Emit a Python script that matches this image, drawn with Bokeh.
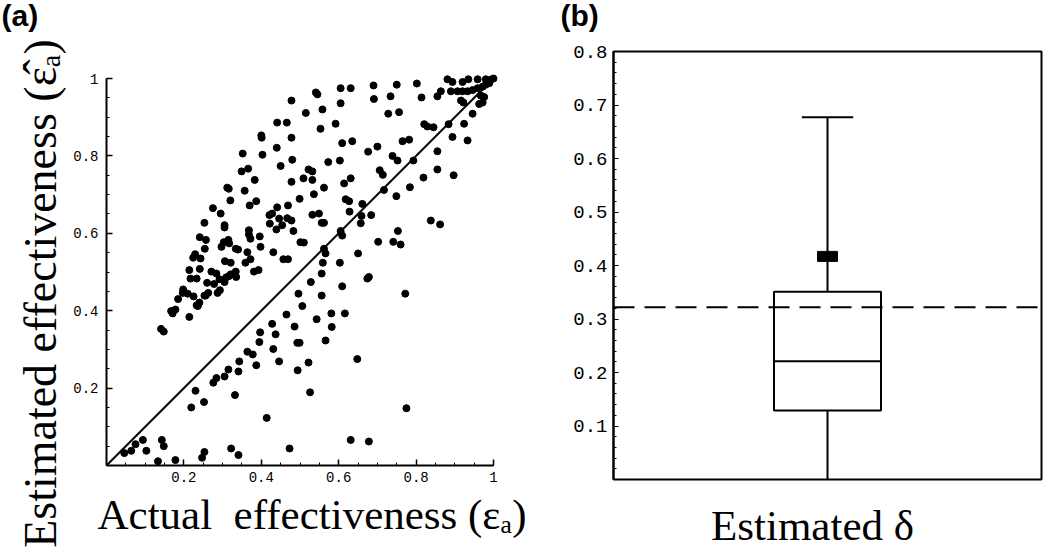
import math
from bokeh.plotting import figure
from bokeh.models import Range1d, FixedTicker, CustomJSTickFormatter, Label, BoxAnnotation
from bokeh.layouts import row
from bokeh.embed import file_html
from bokeh.resources import INLINE

# ---------------- data (a): actual vs estimated effectiveness ----------------
actual = [
    0.605, 0.631, 0.690, 0.750, 0.802, 0.691, 0.734, 0.814, 0.855, 0.864,
    0.881, 0.894, 0.920, 0.935, 0.959, 0.980, 0.993, 1.000, 0.890, 0.907,
    0.920, 0.933, 0.946, 0.959, 0.972, 0.980, 0.989, 0.916, 0.922, 0.967,
    0.976, 0.972, 0.963, 0.946, 0.541, 0.545, 0.478, 0.605, 0.558, 0.515,
    0.592, 0.553, 0.756, 0.728, 0.441, 0.466, 0.400, 0.401, 0.478, 0.609,
    0.635, 0.821, 0.829, 0.845, 0.884, 0.924, 0.894, 0.933, 0.782, 0.765,
    0.352, 0.403, 0.440, 0.676, 0.700, 0.855, 0.793, 0.739, 0.752, 0.603,
    0.573, 0.480, 0.450, 0.349, 0.366, 0.383, 0.614, 0.631, 0.706, 0.714,
    0.855, 0.819, 0.897, 0.522, 0.532, 0.509, 0.532, 0.478, 0.499, 0.536,
    0.562, 0.717, 0.784, 0.749, 0.312, 0.316, 0.320, 0.357, 0.370, 0.387,
    0.275, 0.295, 0.253, 0.305, 0.305, 0.368, 0.441, 0.469, 0.421, 0.428,
    0.446, 0.454, 0.467, 0.478, 0.483, 0.618, 0.627, 0.661, 0.628, 0.659,
    0.684, 0.605, 0.609, 0.657, 0.532, 0.549, 0.556, 0.562, 0.368, 0.396,
    0.372, 0.422, 0.439, 0.315, 0.303, 0.317, 0.334, 0.340, 0.364, 0.398,
    0.241, 0.257, 0.229, 0.224, 0.243, 0.241, 0.254, 0.297, 0.306, 0.321,
    0.359, 0.372, 0.381, 0.393, 0.431, 0.457, 0.469, 0.501, 0.510, 0.562,
    0.566, 0.321, 0.334, 0.284, 0.292, 0.260, 0.263, 0.256, 0.278, 0.287,
    0.293, 0.305, 0.309, 0.316, 0.335, 0.271, 0.214, 0.217, 0.233, 0.210,
    0.225, 0.185, 0.198, 0.197, 0.240, 0.253, 0.178, 0.167, 0.171, 0.141,
    0.148, 0.214, 0.233, 0.236, 0.556, 0.559, 0.741, 0.753, 0.760, 0.772,
    0.775, 0.862, 0.838, 0.648, 0.678, 0.631, 0.650, 0.674, 0.678, 0.702,
    0.603, 0.609, 0.616, 0.581, 0.582, 0.556, 0.566, 0.543, 0.528, 0.506,
    0.496, 0.493, 0.499, 0.486, 0.465, 0.494, 0.522, 0.526, 0.428, 0.437,
    0.431, 0.446, 0.397, 0.395, 0.378, 0.387, 0.364, 0.343, 0.341, 0.332,
    0.315, 0.305, 0.284, 0.276, 0.230, 0.219, 0.252, 0.414, 0.473, 0.322,
    0.341, 0.247, 0.253, 0.178, 0.133, 0.143, 0.148, 0.103, 0.094, 0.075,
    0.064, 0.046,
]
estimated = [
    0.975, 0.975, 0.982, 0.984, 0.987, 0.947, 0.954, 0.951, 0.954, 0.967,
    0.998, 0.991, 0.991, 0.998, 0.998, 0.998, 0.997, 1.000, 0.967, 0.967,
    0.967, 0.967, 0.970, 0.975, 0.979, 0.984, 0.988, 0.943, 0.938, 0.956,
    0.952, 0.938, 0.934, 0.909, 0.964, 0.959, 0.943, 0.936, 0.920, 0.911,
    0.883, 0.870, 0.913, 0.909, 0.886, 0.886, 0.853, 0.847, 0.847, 0.833,
    0.838, 0.882, 0.876, 0.874, 0.882, 0.883, 0.849, 0.840, 0.842, 0.838,
    0.806, 0.803, 0.821, 0.811, 0.824, 0.812, 0.788, 0.800, 0.788, 0.788,
    0.784, 0.790, 0.774, 0.760, 0.767, 0.738, 0.729, 0.742, 0.763, 0.751,
    0.765, 0.744, 0.750, 0.765, 0.760, 0.742, 0.738, 0.733, 0.689, 0.701,
    0.718, 0.712, 0.719, 0.696, 0.718, 0.715, 0.685, 0.710, 0.672, 0.683,
    0.665, 0.651, 0.627, 0.621, 0.615, 0.608, 0.667, 0.672, 0.647, 0.651,
    0.638, 0.621, 0.639, 0.633, 0.606, 0.688, 0.683, 0.676, 0.656, 0.645,
    0.647, 0.606, 0.594, 0.626, 0.648, 0.651, 0.627, 0.627, 0.597, 0.592,
    0.586, 0.625, 0.610, 0.583, 0.577, 0.574, 0.560, 0.558, 0.551, 0.565,
    0.590, 0.583, 0.546, 0.537, 0.535, 0.508, 0.560, 0.565, 0.528, 0.524,
    0.524, 0.533, 0.501, 0.505, 0.551, 0.533, 0.533, 0.577, 0.576, 0.560,
    0.548, 0.494, 0.501, 0.496, 0.481, 0.472, 0.446, 0.439, 0.469, 0.446,
    0.453, 0.474, 0.486, 0.489, 0.487, 0.501, 0.505, 0.483, 0.483, 0.444,
    0.437, 0.430, 0.455, 0.446, 0.421, 0.439, 0.403, 0.399, 0.393, 0.353,
    0.346, 0.384, 0.414, 0.412, 0.496, 0.524, 0.578, 0.606, 0.571, 0.444,
    0.148, 0.623, 0.633, 0.275, 0.062, 0.066, 0.548, 0.483, 0.487, 0.578,
    0.524, 0.463, 0.393, 0.393, 0.358, 0.439, 0.323, 0.378, 0.474, 0.412,
    0.444, 0.317, 0.317, 0.359, 0.390, 0.246, 0.266, 0.189, 0.366, 0.339,
    0.301, 0.269, 0.344, 0.319, 0.287, 0.259, 0.294, 0.269, 0.243, 0.182,
    0.248, 0.230, 0.226, 0.214, 0.193, 0.150, 0.164, 0.123, 0.044, 0.044,
    0.027, 0.020, 0.035, 0.014, 0.011, 0.066, 0.050, 0.038, 0.066, 0.055,
    0.038, 0.032,
]
identity_x = [0.0, 1.0]
identity_y = [0.0, 1.0]
a_ticks = [0.2, 0.4, 0.6, 0.8, 1.0]

# ---------------- data (b): box plot of estimated delta ----------------
delta_min = 0.0
delta_q1 = 0.129
delta_median = 0.221
delta_q3 = 0.351
delta_max = 0.677
delta_mean = 0.417
delta_true = 0.322
b_ticks = [0.1, 0.2, 0.3, 0.4, 0.5, 0.6, 0.7, 0.8]

SERIF = "Liberation Serif"
MONO = "Liberation Mono"
SANS = "Liberation Sans"

H = 552

# ================= panel (a) =================
W1 = 560
ax_left, ax_right, ax_top, ax_bottom = 106, 493, 78, 465   # pixel box of the axes
sx = (ax_right - ax_left)
sy = (ax_bottom - ax_top)
p1 = figure(width=W1, height=H,
            x_range=Range1d(-ax_left / sx, (W1 - ax_left) / sx),
            y_range=Range1d(-(H - ax_bottom) / sy, ax_bottom / sy),
            output_backend="svg", toolbar_location=None,
            min_border=0, min_border_left=0, min_border_right=0,
            min_border_top=0, min_border_bottom=0)
p1.grid.visible = False
p1.outline_line_color = None
p1.background_fill_color = "white"
p1.border_fill_color = "white"

minor_a = [round(0.05 * i, 2) for i in range(1, 21)]
for ax in (p1.xaxis[0], p1.yaxis[0]):
    ax.fixed_location = 0
    ax.bounds = (0, 1)
    ax.ticker = FixedTicker(ticks=a_ticks, minor_ticks=minor_a)
    ax.formatter = CustomJSTickFormatter(code="return tick > 0.999 ? '1' : tick.toFixed(1);")
    ax.axis_line_width = 2
    ax.axis_line_color = "black"
    ax.major_tick_in = 6
    ax.major_tick_out = 0
    ax.minor_tick_in = 3
    ax.minor_tick_out = 0
    ax.major_tick_line_width = 1.5
    ax.minor_tick_line_width = 1
    ax.major_tick_line_color = "black"
    ax.minor_tick_line_color = "black"
    ax.major_label_text_font = MONO
    ax.major_label_text_font_size = "14px"
    ax.major_label_text_color = "black"
p1.xaxis[0].major_label_standoff = 6
p1.yaxis[0].major_label_standoff = 8

p1.line(identity_x, identity_y, line_width=2, line_color="black")
p1.scatter(actual, estimated, size=7, fill_color="black", line_color="black")

p1.add_layout(Label(x=1, y=H - 31, x_units="screen", y_units="screen", text="(a)",
                    text_baseline="bottom",
                    text_font=SANS, text_font_style="bold", text_font_size="30px",
                    text_color="black"))
p1.add_layout(Label(x=65, y=H - 293, x_units="screen", y_units="screen",
                    text="Estimated effectiveness (\u03b5\u0302\u2090)",
                    angle=math.pi / 2, text_align="center", text_baseline="bottom",
                    text_font=SERIF, text_font_size="46px", text_color="black"))
p1.add_layout(Label(x=97, y=H - 537, x_units="screen", y_units="screen",
                    text="Actual\u00a0 effectiveness (\u03b5\u2090)",
                    text_align="left", text_baseline="bottom",
                    text_font=SERIF, text_font_size="43px", text_color="black"))

# ================= panel (b) =================
W2 = 490
bx_left, bx_right, bx_top, bx_bottom = 53, 481, 51, 479   # pixel box of the frame
y_top = 0.8
bsx = (bx_right - bx_left)
bsy = (bx_bottom - bx_top) / y_top
p2 = figure(width=W2, height=H,
            x_range=Range1d(-bx_left / bsx, (W2 - bx_left) / bsx),
            y_range=Range1d(-(H - bx_bottom) / bsy, bx_bottom / bsy),
            x_axis_location=None, output_backend="svg", toolbar_location=None,
            min_border=0, min_border_left=0, min_border_right=0,
            min_border_top=0, min_border_bottom=0)
p2.grid.visible = False
p2.outline_line_color = None
p2.background_fill_color = "white"
p2.border_fill_color = "white"

p2.add_layout(BoxAnnotation(left=0, right=1, bottom=0, top=y_top,
                            fill_alpha=0, line_color="black", line_alpha=1.0,
                            line_width=2))

minor_b = [round(0.02 * i, 2) for i in range(1, 40)]
ay = p2.yaxis[0]
ay.fixed_location = 0
ay.bounds = (0, y_top)
ay.ticker = FixedTicker(ticks=b_ticks, minor_ticks=minor_b)
ay.formatter = CustomJSTickFormatter(code="return tick.toFixed(1);")
ay.axis_line_width = 2
ay.axis_line_color = "black"
ay.major_tick_in = 5
ay.major_tick_out = 0
ay.minor_tick_in = 3
ay.minor_tick_out = 0
ay.major_tick_line_color = "black"
ay.minor_tick_line_color = "black"
ay.major_label_text_font = MONO
ay.major_label_text_font_size = "19px"
ay.major_label_text_color = "black"
ay.major_label_standoff = 6

center = 0.5
half_box = 0.125
half_cap = 0.06

# true value (dashed reference line across the frame)
p2.segment(x0=[0], y0=[delta_true], x1=[1], y1=[delta_true],
           line_width=2, line_color="black", line_dash="21 10")
# whiskers
p2.segment(x0=[center, center], y0=[delta_min, delta_q3],
           x1=[center, center], y1=[delta_q1, delta_max],
           line_width=2, line_color="black")
# upper cap
p2.segment(x0=[center - half_cap], y0=[delta_max], x1=[center + half_cap], y1=[delta_max],
           line_width=2, line_color="black")
# box
p2.quad(left=[center - half_box], right=[center + half_box], bottom=[delta_q1], top=[delta_q3],
        fill_color=None, line_color="black", line_width=2)
# median
p2.segment(x0=[center - half_box], y0=[delta_median], x1=[center + half_box], y1=[delta_median],
           line_width=2, line_color="black")
# mean marker
p2.rect(x=[center], y=[delta_mean], width=20, height=10, width_units="screen",
        height_units="screen", fill_color="black", line_color="black")

p2.add_layout(Label(x=0, y=H - 31, x_units="screen", y_units="screen", text="(b)",
                    text_baseline="bottom",
                    text_font=SANS, text_font_style="bold", text_font_size="30px",
                    text_color="black"))
p2.add_layout(Label(x=252, y=H - 548, x_units="screen", y_units="screen",
                    text="Estimated \u03b4", text_align="center", text_baseline="bottom",
                    text_font=SERIF, text_font_size="43px", text_color="black"))

layout = row(p1, p2)
open("out.html", "w").write(file_html(layout, INLINE))
